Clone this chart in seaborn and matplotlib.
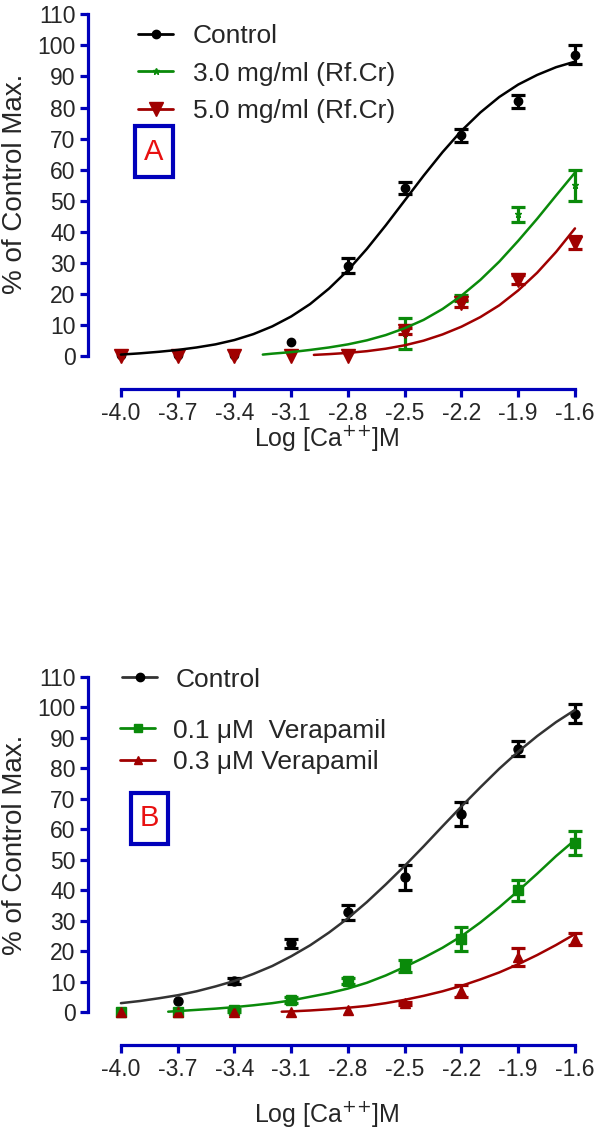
import numpy as np
import matplotlib
matplotlib.use("Agg")
import matplotlib.pyplot as plt
from matplotlib.lines import Line2D
from matplotlib.patches import Rectangle
import seaborn as sns

sns.set_style("ticks")
plt.rcParams['font.family'] = ['Liberation Sans', 'DejaVu Sans']

# ---- data ----
log_ca = [-4.0, -3.7, -3.4, -3.1, -2.8, -2.5, -2.2, -1.9, -1.6]
tick_labels = ["-4.0", "-3.7", "-3.4", "-3.1", "-2.8", "-2.5", "-2.2", "-1.9", "-1.6"]
y_ticks = [0, 10, 20, 30, 40, 50, 60, 70, 80, 90, 100, 110]

# panel A (Rf.Cr)
a_control = [0.3, 0.3, 0.3, 4.3, 29, 54, 71, 82, 97]
a_control_err = [0, 0, 0, 0, 2.5, 2, 2, 2, 3]
a_low = [0, 0, 0, 0, 0.5, 7.2, 18.5, 45.5, 55]
a_low_err = [0, 0, 0, 0, 0, 5, 1, 2.5, 5]
a_high = [0, 0, 0, 0, 0, 7.8, 16.8, 24.5, 36.4]
a_high_err = [0, 0, 0, 0, 0, 1, 1, 1.5, 2]

# fitted curves, panel A
a_control_fit_x = [-4.0, -3.9, -3.8, -3.7, -3.6, -3.5, -3.4, -3.3, -3.2, -3.1, -3.0, -2.9, -2.8,
                   -2.7, -2.6, -2.5, -2.4, -2.3, -2.2, -2.1, -2.0, -1.9, -1.8, -1.7, -1.6]
a_control_fit = [0.3, 0.7, 1.2, 1.8, 2.6, 3.6, 5.0, 6.9, 9.4, 12.6, 16.6, 21.6, 27.5,
                 34.4, 42.0, 50.0, 58.0, 65.6, 72.5, 78.4, 83.4, 87.4, 90.5, 93.0, 94.8]
a_low_fit_x = [-3.25, -3.2, -3.1, -3.0, -2.9, -2.8, -2.7, -2.6, -2.5, -2.4, -2.3, -2.2,
               -2.1, -2.0, -1.9, -1.8, -1.7, -1.6]
a_low_fit = [0.3, 0.6, 1.1, 1.8, 2.6, 3.6, 4.9, 6.6, 8.8, 11.5, 15.0, 19.3,
             24.4, 30.3, 37.0, 44.1, 51.6, 59.0]
a_high_fit_x = [-2.98, -2.9, -2.8, -2.7, -2.6, -2.5, -2.4, -2.3, -2.2, -2.1, -2.0, -1.9,
                -1.8, -1.7, -1.6]
a_high_fit = [0.2, 0.45, 0.85, 1.4, 2.2, 3.3, 4.8, 6.8, 9.3, 12.4, 16.2, 21.0,
              26.7, 33.4, 41.0]

# panel B (verapamil)
b_control = [0, 3.7, 10.2, 22.6, 32.8, 44.2, 65, 86.5, 98]
b_control_err = [0, 0, 1, 1.5, 2.5, 4, 4, 2.5, 3]
b_low = [0, 0, 0.5, 4, 10.3, 15, 24, 40, 55.5]
b_low_err = [0, 0, 0.5, 1, 1, 2, 4, 3.5, 4]
b_high = [0, 0, 0, 0, 0.5, 2.9, 7, 18, 24]
b_high_err = [0, 0, 0, 0, 0, 0.5, 2, 3, 2]

b_control_fit_x = a_control_fit_x
b_control_fit = [2.9, 3.6, 4.5, 5.5, 6.8, 8.4, 10.2, 12.5, 15.1, 18.3, 21.9, 26.1, 30.8,
                 36.1, 41.9, 48.0, 54.4, 61.0, 67.5, 73.8, 79.9, 85.5, 90.6, 95.2, 99.2]
b_low_fit_x = [-3.75, -3.7, -3.6, -3.5, -3.4, -3.3, -3.2, -3.1, -3.0, -2.9, -2.8, -2.7,
               -2.6, -2.5, -2.4, -2.3, -2.2, -2.1, -2.0, -1.9, -1.8, -1.7, -1.6]
b_low_fit = [0.1, 0.3, 0.7, 1.1, 1.6, 2.2, 2.9, 3.8, 5.0, 6.2, 7.7, 9.6,
             12.0, 14.8, 17.8, 21.1, 24.9, 29.4, 34.4, 39.8, 45.4, 51.2, 56.5]
b_high_fit_x = [-3.15, -3.1, -3.0, -2.9, -2.8, -2.7, -2.6, -2.5, -2.4, -2.3, -2.2, -2.1,
                -2.0, -1.9, -1.8, -1.7, -1.6]
b_high_fit = [0.1, 0.2, 0.5, 0.9, 1.4, 2.0, 2.9, 4.0, 5.3, 6.8, 8.6, 10.7,
              13.0, 15.7, 18.7, 22.0, 25.6]

BLUE = "#0000bb"
GREEN = "#0a8a0a"
RED = "#a00000"
XLABEL = "Log [Ca$^{{+}{+}}$]M"


def draw_series(ax, y, err, color, marker, ms, mfc=None, mew=1.0):
    x = np.array(log_ca)
    y = np.array(y, dtype=float)
    err = np.array(err, dtype=float)
    m = err > 0
    ax.errorbar(x[m], y[m], yerr=err[m], fmt="none", ecolor=color, elinewidth=2.3,
                capsize=5, capthick=2.3, zorder=3)
    ax.plot(x, y, linestyle="none", marker=marker, ms=ms, color=color,
            mfc=mfc if mfc else color, mec=color, mew=mew, zorder=4)


def style_axes(ax, ylim):
    ax.set_xlim(-4.174, -1.547)
    ax.set_ylim(*ylim)
    ax.set_xticks(log_ca)
    ax.set_xticklabels(tick_labels)
    ax.set_yticks(y_ticks)
    sns.despine(ax=ax)
    ax.spines["left"].set_bounds(0, 110)
    ax.spines["bottom"].set_bounds(-4.0, -1.6)
    for s in ("left", "bottom"):
        ax.spines[s].set_color(BLUE)
        ax.spines[s].set_linewidth(2.3)
    ax.tick_params(length=6, width=2.3, color=BLUE, labelsize=16.5, pad=3)
    ax.set_ylabel("% of Control Max.", fontsize=20)
    ax.set_xlabel(XLABEL, fontsize=18)
    ax.yaxis.set_label_coords(-0.12, 0.54)


def panel_box(ax, x0, y0, w, h, letter):
    ax.add_patch(Rectangle((x0, y0), w, h, transform=ax.transAxes, fill=False,
                           ec=BLUE, lw=3, clip_on=False))
    ax.text(x0 + w / 2, y0 + h / 2, letter, transform=ax.transAxes, color="#e81010",
            fontsize=21, ha="center", va="center")


fig = plt.figure(figsize=(6, 11.34), dpi=100)
ax_a = fig.add_axes([88 / 600, 1 - 389 / 1134, 497 / 600, 379 / 1134])
ax_b = fig.add_axes([88 / 600, 1 - 1045 / 1134, 497 / 600, 371 / 1134])

# ---- panel A ----
draw_series(ax_a, a_control, a_control_err, "black", "o", 6)
draw_series(ax_a, a_low, a_low_err, GREEN, "*", 5)
draw_series(ax_a, a_high, a_high_err, RED, "v", 10)
sns.lineplot(x=a_control_fit_x, y=a_control_fit, color="black", lw=1.8, ax=ax_a, zorder=5)
sns.lineplot(x=a_low_fit_x, y=a_low_fit, color=GREEN, lw=1.8, ax=ax_a, zorder=5)
sns.lineplot(x=a_high_fit_x, y=a_high_fit, color=RED, lw=1.8, ax=ax_a, zorder=5)
style_axes(ax_a, (-10.8, 111.45))
ax_a.xaxis.set_label_coords(0.48, -0.09)

handles_a = [
    Line2D([], [], color="black", lw=2, marker="o", ms=6),
    Line2D([], [], color=GREEN, lw=2, marker="*", ms=5),
    Line2D([], [], color=RED, lw=2, marker="v", ms=10),
]
ax_a.legend(handles_a, ["Control", "3.0 mg/ml (Rf.Cr)", "5.0 mg/ml (Rf.Cr)"],
            loc="upper left", bbox_to_anchor=(0.1006, 0.962), frameon=False,
            fontsize=19, handlelength=1.33, handletextpad=0.75, labelspacing=0.5,
            borderpad=0, borderaxespad=0)
panel_box(ax_a, 0.0946, 0.559, 0.0765, 0.1346, "A")

# ---- panel B ----
draw_series(ax_b, b_control, b_control_err, "black", "o", 6.5)
draw_series(ax_b, b_low, b_low_err, GREEN, "s", 7)
draw_series(ax_b, b_high, b_high_err, RED, "^", 7)
sns.lineplot(x=b_control_fit_x, y=b_control_fit, color="#333333", lw=1.8, ax=ax_b, zorder=5)
sns.lineplot(x=b_low_fit_x, y=b_low_fit, color=GREEN, lw=1.8, ax=ax_b, zorder=5)
sns.lineplot(x=b_high_fit_x, y=b_high_fit, color=RED, lw=1.8, ax=ax_b, zorder=5)
style_axes(ax_b, (-10.84, 111.0))
ax_b.xaxis.set_label_coords(0.48, -0.145)

leg1 = ax_b.legend([Line2D([], [], color="#333333", lw=2, marker="o", ms=6, mfc="black", mec="black")],
                   ["Control"], loc="upper left", bbox_to_anchor=(0.0684, 1.017),
                   frameon=False, fontsize=19, handlelength=1.33, handletextpad=0.72,
                   borderpad=0, borderaxespad=0)
ax_b.add_artist(leg1)
ax_b.legend([Line2D([], [], color=GREEN, lw=2, marker="s", ms=6),
             Line2D([], [], color=RED, lw=2, marker="^", ms=6)],
            ["0.1 \u03bcM  Verapamil", "0.3 \u03bcM Verapamil"],
            loc="upper left", bbox_to_anchor=(0.0644, 0.88), frameon=False,
            fontsize=19, handlelength=1.33, handletextpad=0.68, labelspacing=0.3,
            borderpad=0, borderaxespad=0)
panel_box(ax_b, 0.0865, 0.5418, 0.0744, 0.1375, "B")

fig.savefig("out.png", dpi=100)
